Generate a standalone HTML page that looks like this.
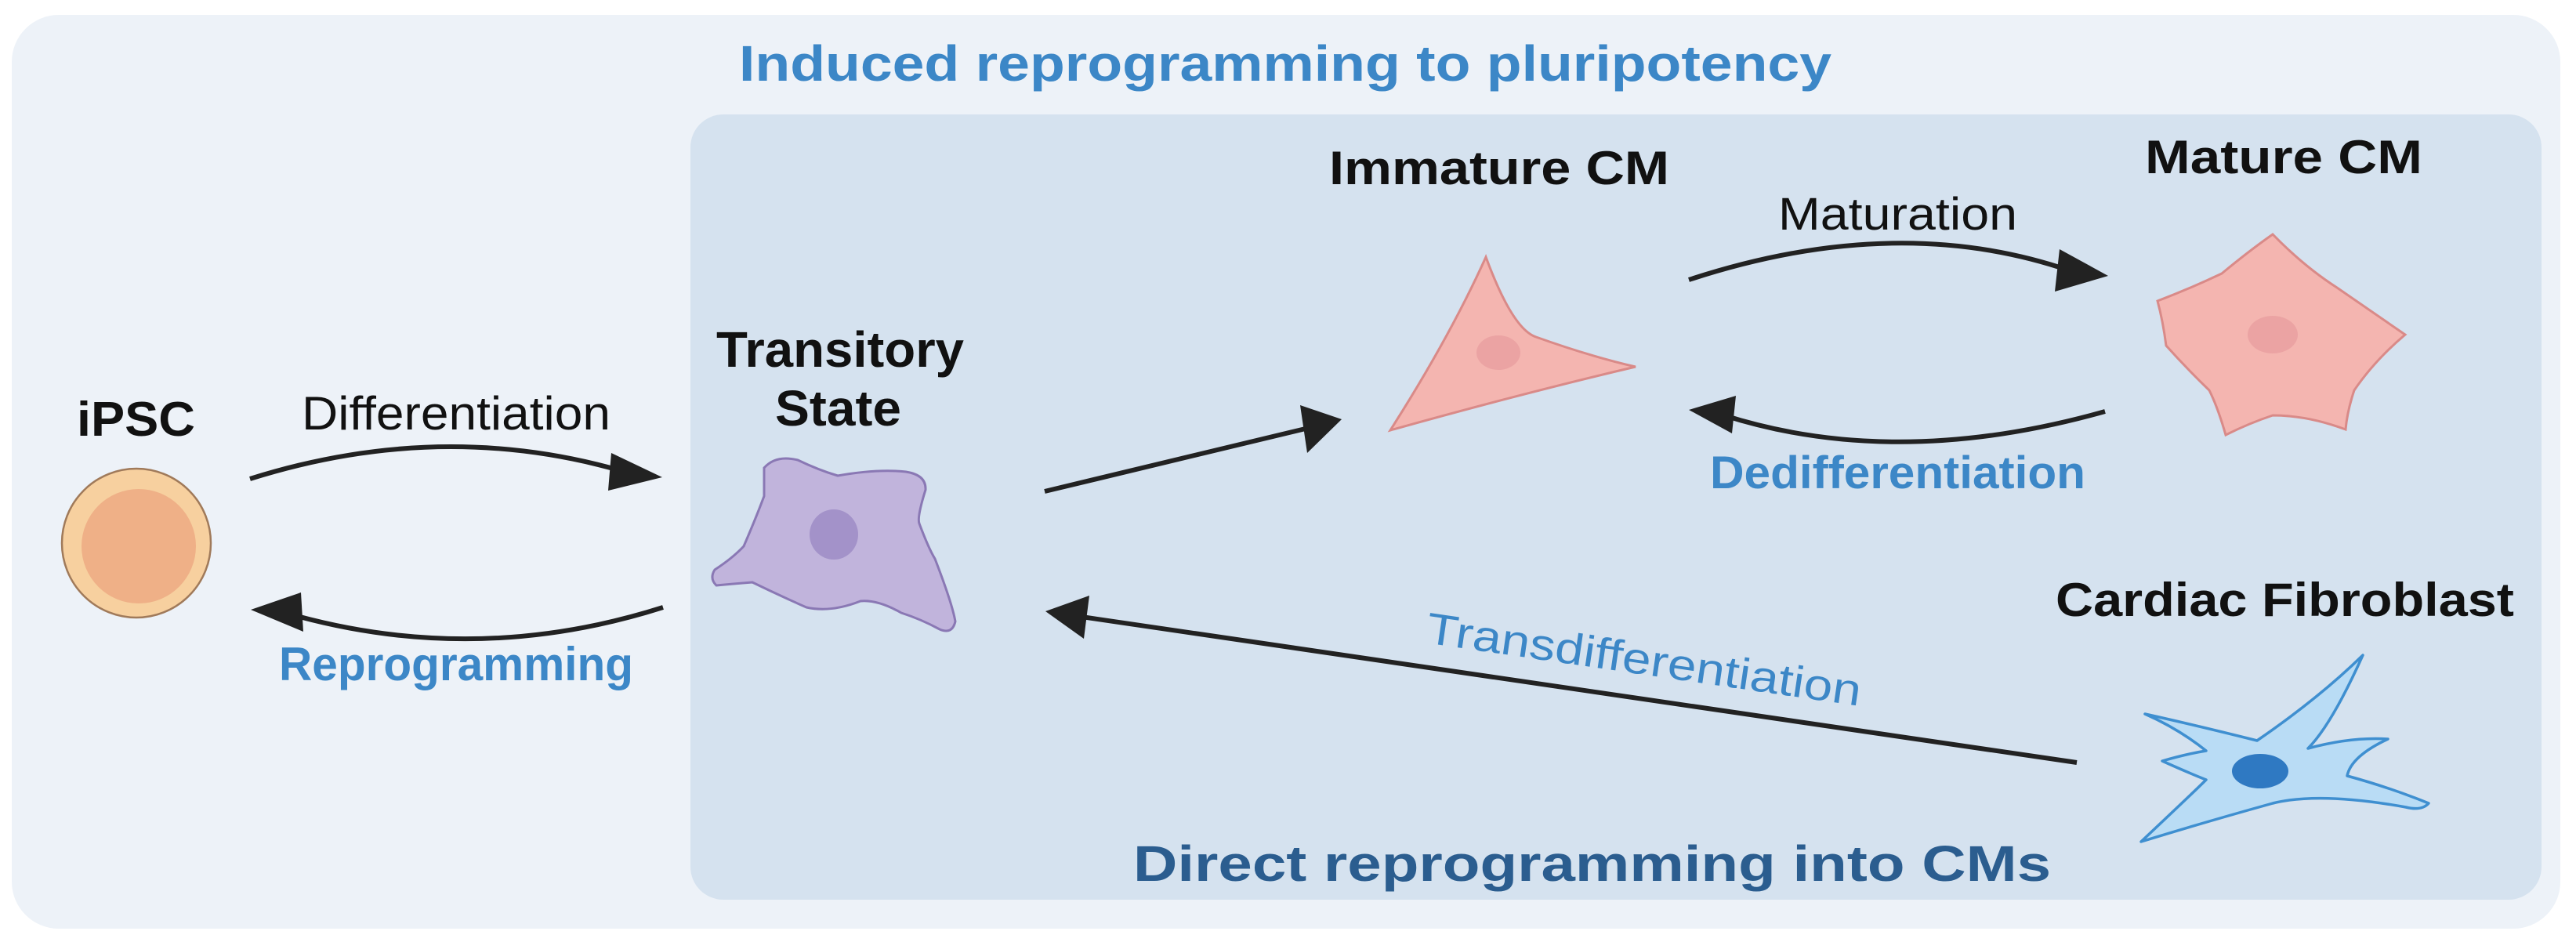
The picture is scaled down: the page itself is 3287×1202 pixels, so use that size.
<!DOCTYPE html>
<html><head><meta charset="utf-8"><style>
html,body{margin:0;padding:0;background:#fff;}
svg{display:block;}
text{font-family:"Liberation Sans",sans-serif;}
</style></head><body>
<svg width="3287" height="1202" viewBox="0 0 3287 1202" xmlns="http://www.w3.org/2000/svg">
<rect x="0" y="0" width="3287" height="1202" fill="#ffffff"/>
<rect x="15" y="19" width="3252" height="1166" rx="60" fill="#edf2f8"/>
<rect x="881" y="146" width="2362" height="1002" rx="42" fill="#d5e2ef"/>

<text x="943" y="103" font-size="64" font-weight="bold" fill="#3c87c7" textLength="1394" lengthAdjust="spacingAndGlyphs">Induced reprogramming to pluripotency</text>
<text x="1446" y="1124" font-size="64" font-weight="bold" fill="#2b5d8f" textLength="1171" lengthAdjust="spacingAndGlyphs">Direct reprogramming into CMs</text>

<!-- iPSC -->
<text x="98" y="556" font-size="62" font-weight="bold" fill="#111" textLength="151" lengthAdjust="spacingAndGlyphs">iPSC</text>
<circle cx="174" cy="693" r="95" fill="#f7d09f" stroke="#a07a5a" stroke-width="2.5"/>
<circle cx="177" cy="697" r="73" fill="#efb087"/>

<!-- Differentiation arrow -->
<text x="385" y="548" font-size="60" fill="#111" textLength="394" lengthAdjust="spacingAndGlyphs">Differentiation</text>
<path d="M319,611 Q560,535 790,600" fill="none" stroke="#222" stroke-width="6"/>
<polygon points="845,609 780,578 776,626" fill="#222"/>

<!-- Reprogramming arrow -->
<path d="M846,775 Q610,850 375,785" fill="none" stroke="#222" stroke-width="6"/>
<polygon points="320,778 384,756 387,806" fill="#222"/>
<text x="356" y="868" font-size="60" font-weight="bold" fill="#3c87c7" textLength="452" lengthAdjust="spacingAndGlyphs">Reprogramming</text>

<!-- Transitory State -->
<text x="914" y="468" font-size="64" font-weight="bold" fill="#111" textLength="316" lengthAdjust="spacingAndGlyphs">Transitory</text>
<text x="989" y="543" font-size="64" font-weight="bold" fill="#111" textLength="161" lengthAdjust="spacingAndGlyphs">State</text>
<path d="M975,597 Q990,580 1018,587 Q1045,600 1069,607 Q1120,598 1156,602 Q1182,606 1181,625 Q1170,660 1173,668 Q1185,700 1193,713 Q1215,770 1219,793 Q1215,810 1199,803 Q1175,790 1150,782 Q1120,765 1098,767 Q1060,782 1029,775 Q995,760 960,743 Q935,745 914,747 Q905,738 912,727 Q935,712 949,697 Q965,660 975,633 Z" fill="#c1b4dc" stroke="#8a78b4" stroke-width="3"/>
<ellipse cx="1064" cy="682" rx="31" ry="32" fill="#a392c9"/>

<!-- middle arrow -->
<line x1="1333" y1="627" x2="1670" y2="546" stroke="#222" stroke-width="6"/>
<polygon points="1712,535 1659,517 1668,578" fill="#222"/>

<!-- Immature CM -->
<text x="1696" y="235" font-size="60" font-weight="bold" fill="#111" textLength="434" lengthAdjust="spacingAndGlyphs">Immature CM</text>
<path d="M1896,328 Q1930,420 1960,430 Q2030,455 2087,468 Q1950,500 1774,549 Q1850,430 1896,328 Z" fill="#f4b5b0" stroke="#d98a88" stroke-width="3"/>
<ellipse cx="1912" cy="450" rx="28" ry="22" fill="#eba3a3"/>

<!-- Maturation -->
<text x="2269" y="293" font-size="58" fill="#111" textLength="305" lengthAdjust="spacingAndGlyphs">Maturation</text>
<path d="M2155,357 Q2420,270 2640,345" fill="none" stroke="#222" stroke-width="6"/>
<polygon points="2690,352 2628,318 2622,372" fill="#222"/>

<!-- Mature CM -->
<text x="2737" y="221" font-size="60" font-weight="bold" fill="#111" textLength="354" lengthAdjust="spacingAndGlyphs">Mature CM</text>
<path d="M2900,299 Q2940,340 2982,367 Q3030,400 3069,427 Q3030,460 3004,498 Q2995,525 2993,548 Q2945,530 2900,530 Q2870,540 2840,555 Q2830,520 2819,498 Q2790,470 2764,441 Q2760,410 2753,384 Q2795,368 2835,349 Q2870,320 2900,299 Z" fill="#f4b5b0" stroke="#d98a88" stroke-width="3"/>
<ellipse cx="2900" cy="427" rx="32" ry="24" fill="#eba3a3"/>

<!-- Dedifferentiation -->
<path d="M2686,525 Q2420,600 2200,530" fill="none" stroke="#222" stroke-width="6"/>
<polygon points="2155,523 2215,505 2210,553" fill="#222"/>
<text x="2182" y="623" font-size="58" font-weight="bold" fill="#3c87c7" textLength="479" lengthAdjust="spacingAndGlyphs">Dedifferentiation</text>

<!-- Cardiac Fibroblast -->
<text x="2623" y="786" font-size="60" font-weight="bold" fill="#111" textLength="585" lengthAdjust="spacingAndGlyphs">Cardiac Fibroblast</text>
<path d="M3015,836 Q2975,925 2945,955 Q3000,940 3047,943 Q3000,965 2995,990 Q3050,1005 3099,1025 Q3090,1035 3070,1030 Q2960,1010 2900,1025 Q2810,1050 2732,1074 Q2800,1010 2815,995 Q2790,985 2759,971 Q2790,962 2815,958 Q2780,930 2737,911 Q2800,925 2880,945 Q2960,890 3015,836 Z" fill="#b9dcf5" stroke="#3f8fd0" stroke-width="3.5" stroke-linejoin="round"/>
<ellipse cx="2884" cy="984" rx="36" ry="22" fill="#2f79c2"/>

<!-- Transdifferentiation arrow -->
<line x1="2650" y1="973" x2="1380" y2="787" stroke="#222" stroke-width="6"/>
<polygon points="1334,780 1390,760 1383,815" fill="#222"/>
<text x="0" y="0" font-size="56" fill="#3c87c7" textLength="560" lengthAdjust="spacingAndGlyphs" transform="translate(1818,820) rotate(8.3)">Transdifferentiation</text>
</svg>
</body></html>
